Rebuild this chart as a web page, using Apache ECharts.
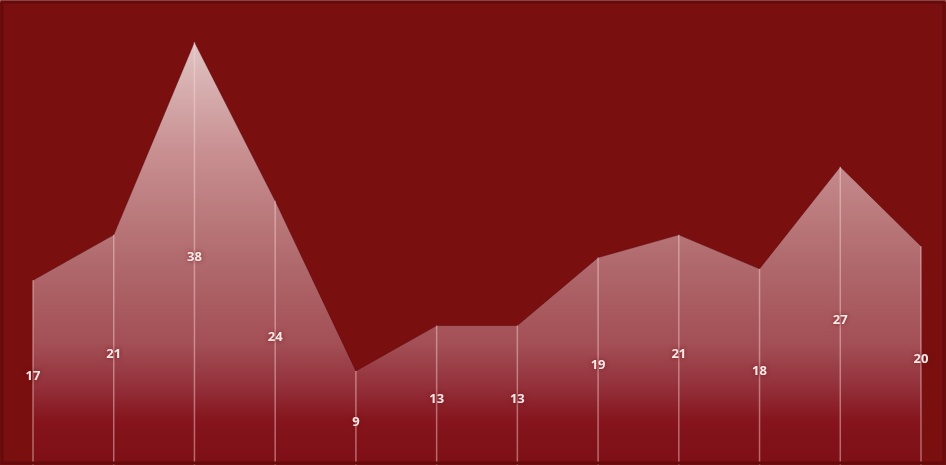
<!DOCTYPE html>
<html><head><meta charset="utf-8">
<script src="https://cdn.jsdelivr.net/npm/echarts@6/dist/echarts.min.js"></script>
<style>html,body{margin:0;padding:0;background:#7a0f10;overflow:hidden;width:946px;height:465px;}#c{width:946px;height:473px;}</style>
</head><body><div id="c"></div>
<script>
var categories = ['1','2','3','4','5','6','7','8','9','10','11','12'];
var values = [17, 21, 38, 24, 9, 13, 13, 19, 21, 18, 27, 20];

var chart = echarts.init(document.getElementById('c'), null, {renderer: 'canvas'});
chart.setOption({
  backgroundColor: '#7a0f10',
  animation: false,
  grid: {left: 33, right: 25, top: 42, bottom: 0},
  xAxis: {type: 'category', data: categories, boundaryGap: false, show: false},
  yAxis: {type: 'value', min: 0, max: 38, show: false},
  graphic: [
    {type: 'rect', shape: {x: 0, y: 0, width: 946, height: 2}, style: {fill: '#b87a7a'}, z: 100},
    {type: 'rect', shape: {x: 2, y: 2, width: 942, height: 461}, style: {fill: 'none', stroke: '#650b0c', lineWidth: 3}, z: 100}
  ],
  series: [
    {
      type: 'line',
      data: values,
      symbol: 'none',
      lineStyle: {width: 1, color: 'rgba(90,10,12,0.5)'},
      areaStyle: {
        color: {
          type: 'linear', x: 0, y: 0, x2: 0, y2: 1,
          colorStops: [
            {offset: 0, color: '#e0c4c4'},
            {offset: 0.25, color: '#c99092'},
            {offset: 0.5, color: '#b16b6e'},
            {offset: 0.7, color: '#a34f55'},
            {offset: 0.8, color: '#93303a'},
            {offset: 0.88, color: '#85141c'},
            {offset: 1, color: '#7c0e14'}
          ]
        },
        opacity: 1
      },
      z: 2
    },
    {
      type: 'bar',
      data: values,
      barWidth: 1.5,
      itemStyle: {color: 'rgba(250,215,215,0.45)'},
      label: {
        show: true,
        position: 'inside',
        color: '#fbe8e8',
        fontFamily: 'Open Sans',
        fontWeight: 'bold',
        fontSize: 13,
        textShadowColor: 'rgba(120,20,25,0.8)',
        textShadowBlur: 4
      },
      z: 3
    }
  ]
});
</script></body></html>
